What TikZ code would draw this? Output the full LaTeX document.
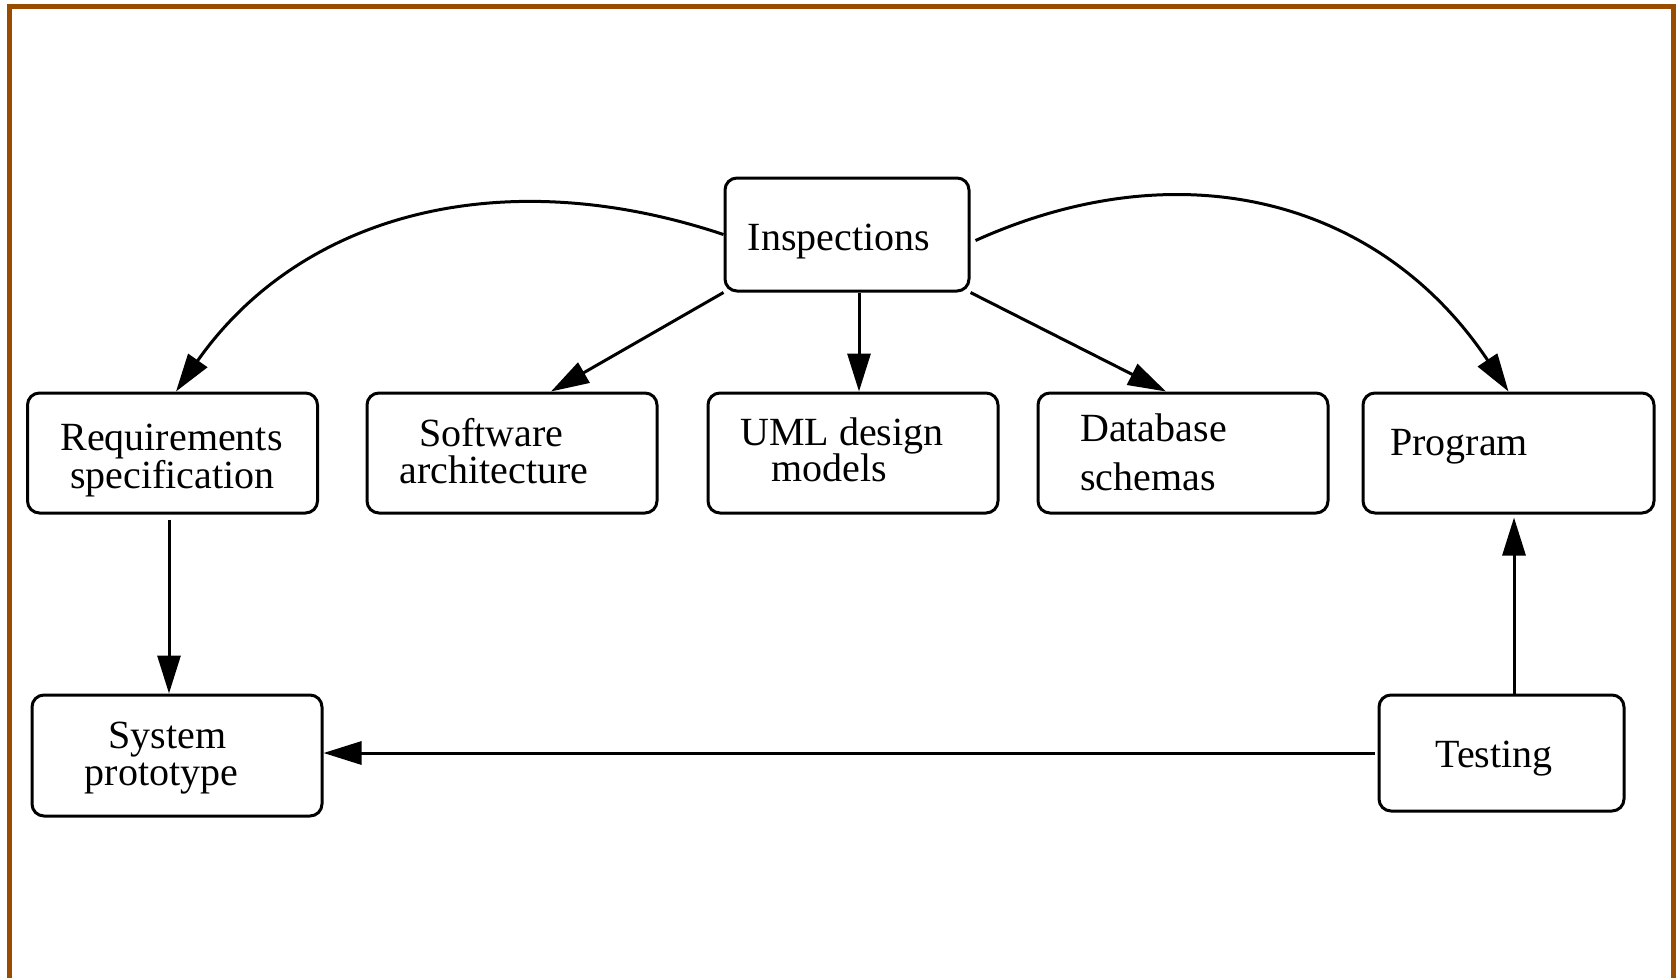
\documentclass[tikz,border=0pt]{standalone}
\usepackage{fontspec}
\setmainfont{Liberation Serif}
\usetikzlibrary{arrows.meta}
\definecolor{framebrown}{RGB}{153,76,0}
\begin{document}
\begin{tikzpicture}[x=1pt,y=-1pt,
  box/.style={draw, line width=3pt, rounded corners=12pt, inner sep=0pt,
              minimum width=290pt, minimum height=120pt},
  txt/.style={inner sep=0pt, font=\fontsize{40}{38}\selectfont},
  conn/.style={line width=3pt, -{Triangle[length=38pt,width=23pt]}}]
\useasboundingbox (0,0) rectangle (1679,978);
% frame (left, top, right; open at bottom)
\draw[framebrown, line width=5pt] (9.5,978) -- (9.5,6.5) -- (1673.5,6.5) -- (1673.5,978);

% boxes
\node[box, minimum width=244pt, minimum height=113pt] (insp) at (847,234.5) {};
\node[box] (req)  at (172.5,453) {};
\node[box] (sw)   at (512,453) {};
\node[box] (uml)  at (853,453) {};
\node[box] (db)   at (1183,453) {};
\node[box, minimum width=291pt] (prog) at (1508.5,453) {};
\node[box, minimum height=121pt] (sys) at (177,755.5) {};
\node[box, minimum width=245pt, minimum height=116pt] (test) at (1501.5,753) {};

% texts
\node[txt, anchor=base] (insp-t) at (839,250) {Inspections};
\node[txt, anchor=base] (req-t1) at (171.5,450.7) {Requirements};
\node[txt, anchor=base] (req-t2) at (172.5,488) {specification};
\node[txt, anchor=base] (sw-t1) at (491.5,446.7) {Software};
\node[txt, anchor=base] (sw-t2) at (494,483) {architecture};
\node[txt, anchor=base] (uml-t1) at (842,445) {UML design};
\node[txt, anchor=base] (uml-t2) at (829,481.7) {models};
\node[txt, anchor=base west] (db-t1) at (1080,441.7) {Database};
\node[txt, anchor=base west] (db-t2) at (1080,490) {schemas};
\node[txt, anchor=base west] (prog-t) at (1390,455) {Program};
\node[txt, anchor=base] (sys-t1) at (167.5,748) {System};
\node[txt, anchor=base] (sys-t2) at (161.5,785) {prototype};
\node[txt, anchor=base] (test-t) at (1494,767) {Testing};

% connectors
\draw[conn] (insp.west) .. controls (500,160) and (300,215) .. ([xshift=3.5pt]req.north);
\draw[conn] ([xshift=5pt,yshift=-6pt]insp.east) .. controls (1183.8,146.7) and (1381.5,201.1) .. (prog.north);
\draw[conn] (insp.south west) -- ([xshift=39pt]sw.north);
\draw[conn] (insp.south east) -- ([xshift=-17pt]db.north);
\path ([xshift=12pt]insp.south) coordinate (ia);
\draw[conn] (ia) -- (ia |- uml.north);
\path ([xshift=-3.5pt]req.south) ++(0,5) coordinate (rs);
\draw[conn] (rs) -- (rs |- sys.north);
\path ([xshift=12.5pt]test.north) coordinate (tn);
\path (tn |- prog.south) ++(0,3) coordinate (pb);
\draw[conn] (tn) -- (pb);
\draw[conn] ([xshift=-3pt]test.west) -- (sys.east |- test.west);
\end{tikzpicture}
\end{document}
